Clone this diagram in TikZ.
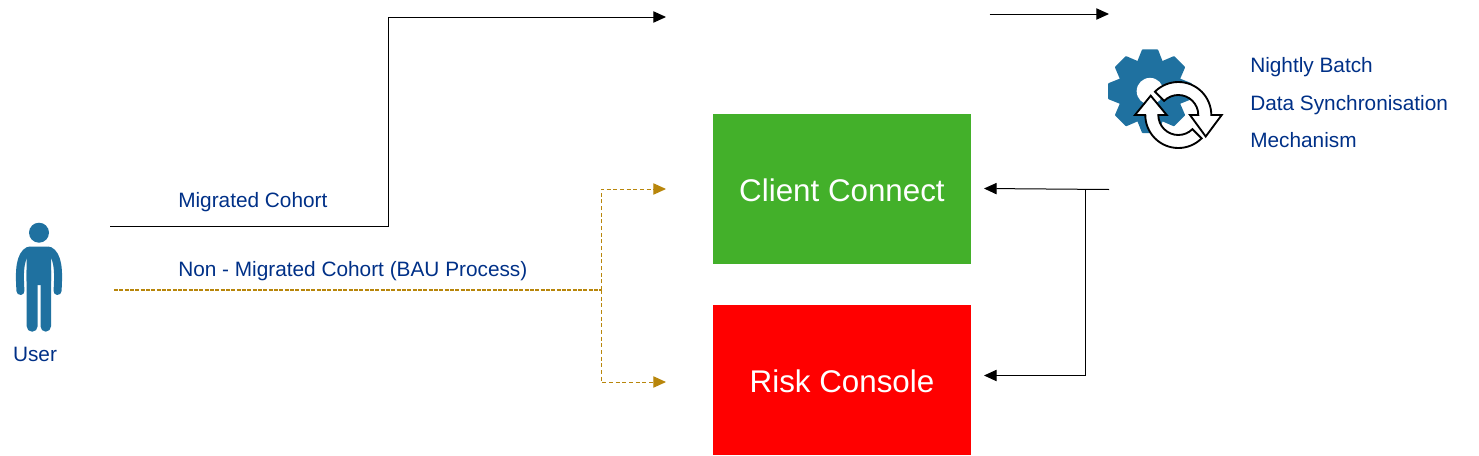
\documentclass[tikz,border=0pt]{standalone}
\usepackage{fontspec}
\setmainfont{Liberation Sans}
\usetikzlibrary{arrows.meta,calc}
\definecolor{navy}{RGB}{0,48,135}
\definecolor{iconblue}{RGB}{31,113,160}
\definecolor{gold}{RGB}{184,134,11}
\definecolor{boxgreen}{RGB}{67,176,42}
\tikzset{
 flowbox/.style={minimum width=193.5pt,minimum height=112.5pt,inner sep=0pt,text=white,text height=18pt,text depth=0pt,font=\fontsize{23.5}{28}\selectfont},
 lbl/.style={text=navy,font=\fontsize{15.6}{18}\selectfont,inner sep=0pt},
 solidflow/.style={black,line width=0.75pt,-{Triangle[length=9.5pt,width=8.5pt]}},
 dashflow/.style={gold,line width=0.75pt,dash pattern=on 3pt off 2pt,-{Triangle[length=9.5pt,width=8.5pt]}},
 dashmain/.style={gold,line width=1.9pt,dash pattern=on 3pt off 1pt},
 iconarm/.style={iconblue,line width=6pt,line cap=round},
 cycle/.style={fill=white,draw=black,line width=1.4pt,line join=miter}
}
\begin{document}
\begin{tikzpicture}[x=0.75pt,y=0.75pt]
\useasboundingbox (0,0) rectangle (1479,455);
% boxes
\node[flowbox,fill=boxgreen] (cc) at (842,266) {Client Connect};
\node[flowbox,fill=red] (rc) at (842,75) {Risk Console};
% free ends
\coordinate (userA) at (110,229);
\coordinate (bendA) at (388,229);
\coordinate (bendB) at (388,438);
\coordinate (topEnd) at (666,438);
\coordinate (topS) at (989.5,441);
\coordinate (topE) at (1109,441);
\coordinate (userB) at (114,165);
\coordinate (fork) at (601,165);
\coordinate (ccIn) at (666,266);
\coordinate (rcIn) at (666,73);
\coordinate (syncS) at (1109,265.5);
\coordinate (syncJ) at (1085,265.5);
\coordinate (ccR) at (984,266.5);
\coordinate (rcR) at (984,79.5);
% connectors
\draw[solidflow] (userA) -- (bendA) -- (bendB) -- (topEnd);
\draw[solidflow] (topS) -- (topE);
\draw[solidflow] (syncS) -- (ccR);
\draw[solidflow] (syncJ) -- (syncJ |- rcR) -- (rcR);
\draw[dashmain] (userB) -- (fork);
\draw[dashflow] (fork) -- (fork |- ccIn) -- (ccIn);
\draw[dashflow] (fork) -- (fork |- rcIn) -- (rcIn);
% labels
\node[lbl,anchor=west] (l1) at (178,253) {Migrated Cohort};
\node[lbl,anchor=west] (l2) at (178,184) {Non - Migrated Cohort (BAU Process)};
\node[lbl] (l3) at (35,101) {User};
\node[lbl,anchor=west] (l4) at (1250,388) {Nightly Batch};
\node[lbl,anchor=west] (l5) at (1250,350) {Data Synchronisation};
\node[lbl,anchor=west] (l6) at (1250,315) {Mechanism};
% user icon
\fill[iconblue] (39,222.3) circle[radius=7.5pt];
\fill[iconblue,rounded corners=4pt] (26.7,123.3) rectangle (37.6,190);
\fill[iconblue,rounded corners=4pt] (40.5,123.3) rectangle (51,190);
\fill[iconblue,rounded corners=3pt] (26.7,170) rectangle (51,208.5);
\draw[iconarm] (20.5,164) .. controls (19,185) and (20,200) .. (29,204.5);
\draw[iconarm] (57.5,164) .. controls (59,185) and (58,200) .. (49,204.5);
% gear
\begin{scope}[shift={(1150,363.8)}]
\fill[iconblue,line join=round,draw=iconblue,line width=1.5pt]
 (67:31) -- (80:41.5) -- (100:41.5) -- (113:31)
 -- (112:31) -- (125:41.5) -- (145:41.5) -- (158:31)
 -- (157:31) -- (170:41.5) -- (190:41.5) -- (203:31)
 -- (202:31) -- (215:41.5) -- (235:41.5) -- (248:31)
 -- (247:31) -- (260:41.5) -- (280:41.5) -- (293:31)
 -- (292:31) -- (305:41.5) -- (325:41.5) -- (338:31)
 -- (337:31) -- (350:41.5) -- (10:41.5) -- (23:31)
 -- (22:31) -- (35:41.5) -- (55:41.5) -- (68:31) -- cycle;
\fill[white] (0,0) circle[radius=10pt];
\end{scope}
% cycle arrows
\begin{scope}[shift={(1178.3,340)}]
\draw[cycle] (135:33) arc[start angle=135,end angle=0,radius=24.75pt] -- (43.4,0) -- (27.4,-21.5) -- (11.7,0) -- (20,0) arc[start angle=0,end angle=135,radius=15pt] -- cycle;
\draw[cycle] (-45:33) arc[start angle=-45,end angle=-180,radius=24.75pt] -- (-43.3,0) -- (-27.6,19.3) -- (-11.6,0) -- (-20,0) arc[start angle=-180,end angle=-45,radius=15pt] -- cycle;
\end{scope}
\end{tikzpicture}
\end{document}
